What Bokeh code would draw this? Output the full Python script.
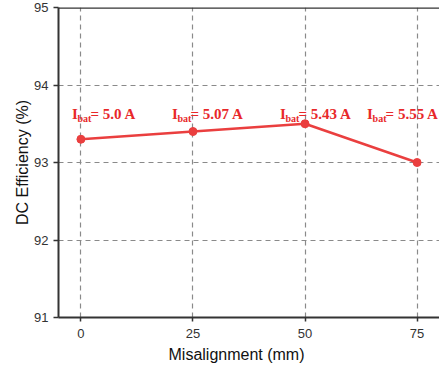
from bokeh.plotting import figure
from bokeh.models import Range1d, Span, Title, FixedTicker, ColumnDataSource
from bokeh.core.properties import value
from bokeh.embed import file_html
from bokeh.resources import INLINE

misalignment = [0, 25, 50, 75]
efficiency = [93.3, 93.4, 93.5, 93.0]
currents = ["5.0", "5.07", "5.43", "5.55"]
x_ticks = [0, 25, 50, 75]
y_ticks = [91, 92, 93, 94, 95]

label_dx = [-9, -21, -25, -50]   # pixel shift of each annotation
label_y = 93.62

RED = "#ea3f3f"
TXT_RED = "#e8282a"

p = figure(width=439, height=368, output_backend="svg", toolbar_location=None,
           x_range=Range1d(-5, 80), y_range=Range1d(91, 95),
           min_border_left=58, min_border_right=0, min_border_top=7, min_border_bottom=51)
p.outline_line_color = None
p.background_fill_color = "white"
p.border_fill_color = "white"

for ax in (p.xaxis[0], p.yaxis[0]):
    ax.axis_line_width = 2
    ax.axis_line_color = "#333333"
    ax.major_tick_line_color = "#333333"
    ax.major_tick_line_width = 1.5
    ax.minor_tick_line_color = None
    ax.major_tick_in = 0
    ax.major_label_text_font = "Liberation Sans"
    ax.major_label_text_font_size = "13px"
    ax.major_label_text_color = "#333333"

p.xaxis.ticker = FixedTicker(ticks=x_ticks)
p.yaxis.ticker = FixedTicker(ticks=y_ticks)
p.xaxis.major_tick_out = 4
p.yaxis.major_tick_out = 5
p.xaxis.major_label_standoff = 7
p.yaxis.major_label_standoff = 5

p.yaxis.axis_label = "DC Efficiency (%)"
p.yaxis.axis_label_text_font = "Liberation Sans"
p.yaxis.axis_label_text_font_size = "16px"
p.yaxis.axis_label_text_font_style = "normal"
p.yaxis.axis_label_text_color = "#111111"
p.yaxis.axis_label_standoff = 0

for g in (p.xgrid[0], p.ygrid[0]):
    g.grid_line_color = "#8a8a8a"
    g.grid_line_dash = "5 4"
    g.grid_line_width = 1.2
p.xgrid.ticker = FixedTicker(ticks=x_ticks)
p.ygrid.ticker = FixedTicker(ticks=[92, 93, 94])

p.add_layout(Span(location=95, dimension="width", line_color="#333333", line_width=2.5))

src = ColumnDataSource(dict(x=misalignment, y=efficiency))
p.line("x", "y", source=src, line_color=RED, line_width=2.5)
p.scatter("x", "y", source=src, size=8, fill_color=RED, line_color=RED)

for xv, cur, dx in zip(misalignment, currents, label_dx):
    p.text(x=[xv], y=[label_y], text=["I"], x_offset=dx, text_font=value("Liberation Serif"),
           text_font_style="bold", text_font_size="15px", text_color=TXT_RED,
           text_baseline="alphabetic", text_align="left")
    p.text(x=[xv], y=[label_y], text=["bat"], x_offset=dx + 5.5, y_offset=4,
           text_font=value("Liberation Serif"), text_font_style="bold", text_font_size="10px",
           text_color=TXT_RED, text_baseline="alphabetic", text_align="left")
    p.text(x=[xv], y=[label_y], text=["= " + cur + " A"], x_offset=dx + 18.5,
           text_font=value("Liberation Serif"), text_font_style="bold", text_font_size="15px",
           text_color=TXT_RED, text_baseline="alphabetic", text_align="left")

xtitle = Title(text="Misalignment (mm)", text_font="Liberation Sans", text_font_size="16px",
               text_font_style="normal", text_color="#111111", align="left", offset=110,
               standoff=6)
p.add_layout(xtitle, "below")

open("out.html", "w").write(file_html(p, INLINE))
